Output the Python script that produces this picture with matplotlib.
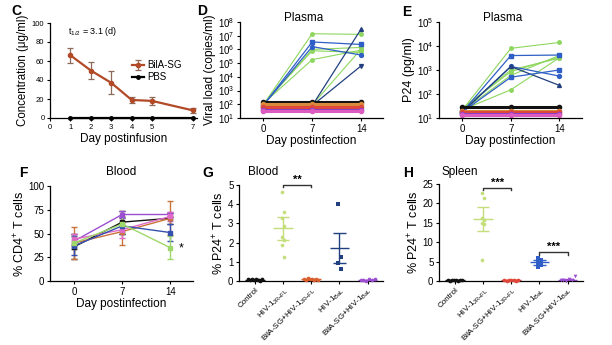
import numpy as np
import matplotlib.pyplot as plt

plt.rcParams['font.family'] = ['Liberation Sans', 'DejaVu Sans']
plt.rcParams['mathtext.fontset'] = 'custom'
plt.rcParams['mathtext.rm'] = 'Liberation Sans'
plt.rcParams['mathtext.it'] = 'Liberation Sans:italic'
plt.rcParams['mathtext.bf'] = 'Liberation Sans:bold'

# ---- data ----
# C: BilA-SG concentration after infusion
days_c = [1, 2, 3, 4, 5, 7]
conc_bila = [66, 50, 37, 19, 18, 8]
conc_err = [8, 9, 12, 3, 4, 3]
conc_pbs = [0, 0, 0, 0, 0, 0]

days = [0, 7, 14]

# D: viral load (copies/ml)
vl_jrfl = [[90, 1.4e7, 1.25e7],
           [100, 1.0e6, 1.4e6],
           [110, 1.8e5, 9e5],
           [100, 8e5, 6e5],
           [100, 90, 1.1e6]]
vl_bal = [[80, 3.5e6, 2.3e6],
          [80, 1.6e6, 3.9e5],
          [80, 80, 3.2e7],
          [80, 80, 6.5e4]]
vl_ctrl = [155, 105, 63, 38, 32]

# E: P24 (pg/ml)
p24_jrfl = [[22, 8000, 14000],
            [25, 850, 3500],
            [25, 1000, 3100],
            [22, 150, 3200],
            [20, 600, 4000]]
p24_bal = [[18, 4000, 4200],
           [18, 1400, 560],
           [18, 1400, 230],
           [18, 500, 1000]]
p24_ctrl = [28, 20, 17, 15, 13]

# F: % CD4+ T cells in blood (mean, error) per group
cd4_mean = {'black': [36, 62, 66], 'orange': [40, 52, 66], 'purple': [42, 70, 70],
            'pink': [44, 54, 68], 'blue': [37, 58, 51], 'green': [40, 60, 35]}
cd4_err = {'black': [13, 12, 6], 'orange': [17, 14, 18], 'purple': [8, 4, 3],
           'pink': [6, 9, 5], 'blue': [10, 9, 9], 'green': [6, 8, 12]}

# G: % P24+ T cells, blood
g_ctrl = [0.08, 0.05, 0.12, 0.03, 0.1, 0.06, 0.02, 0.09]
g_jrfl = [4.62, 3.6, 3.3, 2.85, 2.3, 2.15, 1.86, 1.27]
g_bila_jrfl = [0.1, 0.05, 0.15, 0.08, 0.12, 0.04, 0.1, 0.07]
g_bal = [4.02, 1.23, 0.95, 0.62]
g_bila_bal = [0.03, 0.06, 0.02, 0.08, 0.05, 0.1]
g_mean = [0.07, 2.75, 0.09, 1.72, 0.05]
g_err = [0.02, 0.6, 0.03, 0.8, 0.02]

# H: % P24+ T cells, spleen
h_ctrl = [0.2, 0.1, 0.3, 0.15, 0.25, 0.1, 0.35, 0.2]
h_jrfl = [22.8, 21.3, 16.2, 15.6, 15.0, 14.6, 5.3]
h_bila_jrfl = [0.2, 0.1, 0.25, 0.15, 0.3, 0.1, 0.2]
h_bal = [5.9, 5.5, 5.0, 4.8, 4.5, 4.0, 3.7]
h_bila_bal = [0.2, 0.3, 0.1, 0.4, 0.2, 1.2]
h_mean = [0.2, 15.9, 0.2, 4.8, 0.35]
h_err = [0.05, 3.1, 0.05, 0.6, 0.1]

groups_gh = ['Control', r'HIV-1$_{\mathrm{JR{-}FL}}$', r'BilA-SG+HIV-1$_{\mathrm{JR{-}FL}}$',
             r'HIV-1$_{\mathrm{BaL}}$', r'BilA-SG+HIV-1$_{\mathrm{BaL}}$']

# colours
rust = '#b24a28'
green = '#8ed65e'
lgreen = '#c4de7c'
blue = '#2f5fc6'
dblue = '#22407f'
ctrl_cols = ['#111111', '#d98a3a', '#e0473b', '#8a3fc8', '#dd5cc0']
f_cols = {'black': '#111111', 'orange': '#c8743a', 'purple': '#9b4fd0',
          'pink': '#e06ac8', 'blue': '#3550b0', 'green': '#9fd86a'}

W, H = 612, 345
fig = plt.figure(figsize=(W / 100, H / 100), dpi=100)
YL = 9      # y label size
XL = 8.5    # x label size


def box(l, t, r, b):
    ax = fig.add_axes([l / W, 1 - b / H, (r - l) / W, (b - t) / H])
    for s in ['top', 'right']:
        ax.spines[s].set_visible(False)
    for s in ['left', 'bottom']:
        ax.spines[s].set_linewidth(0.9)
    ax.tick_params(direction='out', length=2.5, width=0.8, pad=1.5, labelsize=7)
    ax.patch.set_alpha(0)
    return ax


def ftext(x, y, s, **kw):
    fig.text(x / W, 1 - y / H, s, **kw)


# ---- C ----
ax = box(50, 23, 197, 118)
h1 = ax.errorbar(days_c, conc_bila, yerr=conc_err, color=rust, ecolor='#8f6a5a', elinewidth=0.9,
                 capsize=2.5, capthick=0.9, marker='o', ms=3, lw=1.6)
h2, = ax.plot(days_c, conc_pbs, color='k', marker='o', ms=2.5, lw=1.6, clip_on=False)
ax.set_xlim(0, 7.2)
ax.set_ylim(0, 100)
ax.set_xticks([0, 1, 2, 3, 4, 5, 7])
ax.set_yticks(range(0, 101, 20))
ax.tick_params(labelsize=5.5)
ax.set_xlabel('Day postinfusion', fontsize=XL, labelpad=2)
ax.set_ylabel('Concentration (\u03bcg/ml)', fontsize=8.3, labelpad=2)
ax.text(0.9, 88, r't$_{1/2}$ = 3.1 (d)', fontsize=6.5)
ax.legend([h1, h2], ['BilA-SG', 'PBS'], loc='upper left', bbox_to_anchor=(0.5, 0.7),
          frameon=False, fontsize=7, handlelength=1.2, handletextpad=0.3, labelspacing=0.2)

# ---- D ----
ax = box(240, 22, 383, 118)
for row in vl_jrfl:
    ax.plot(days, row, color=green, lw=0.8, marker='o', ms=2.5)
for row, m in zip(vl_bal, ['s', 'o', '^', 'v']):
    ax.plot(days, row, color=blue if m in 'so' else dblue, lw=0.9, marker=m, ms=2.8)
for v, c in zip(vl_ctrl, ctrl_cols):
    ax.plot(days, [v, v, v], color=c, lw=2.2, marker='o', ms=3)
ax.set_yscale('log')
ax.set_ylim(10, 1e8)
ax.set_yticks([10 ** k for k in range(1, 9)])
ax.yaxis.set_minor_locator(plt.NullLocator())
ax.set_xlim(-3.3, 17.1)
ax.set_xticks(days)
ax.set_xlabel('Day postinfection', fontsize=XL, labelpad=1)
ax.set_ylabel('Viral load (copies/ml)', fontsize=8.6, labelpad=1)
ftext(304, 18, 'Plasma', fontsize=8.5, ha='center', va='center')

# ---- E ----
ax = box(439, 22, 582, 118)
for row in p24_jrfl:
    ax.plot(days, row, color=green, lw=0.8, marker='o', ms=2.5)
for row, m in zip(p24_bal, ['s', 'o', '^', 's']):
    ax.plot(days, row, color=blue if m != '^' else dblue, lw=0.9, marker=m, ms=2.8)
for v, c in zip(p24_ctrl, ctrl_cols):
    ax.plot(days, [v, v, v], color=c, lw=2.2, marker='o', ms=3)
ax.set_yscale('log')
ax.set_ylim(10, 1e5)
ax.set_yticks([10 ** k for k in range(1, 6)])
ax.yaxis.set_minor_locator(plt.NullLocator())
ax.set_xlim(-3.4, 17.3)
ax.set_xticks(days)
ax.set_xlabel('Day postinfection', fontsize=XL, labelpad=1)
ax.set_ylabel('P24 (pg/ml)', fontsize=YL, labelpad=1)
ftext(503, 18, 'Plasma', fontsize=8.5, ha='center', va='center')

# ---- F ----
ax = box(50, 186, 193, 281)
for k in cd4_mean:
    ax.errorbar(days, cd4_mean[k], yerr=cd4_err[k], color=f_cols[k], lw=1.0, elinewidth=1.0,
                capsize=2.5, capthick=1.0, marker='s', ms=2.5)
ax.set_ylim(0, 100)
ax.set_yticks([0, 25, 50, 75, 100])
ax.set_xlim(-3.5, 17.3)
ax.set_xticks(days)
ax.set_xlabel('Day postinfection', fontsize=XL, labelpad=1)
ax.set_ylabel(r'% CD4$^{+}$ T cells', fontsize=YL, labelpad=1)
ax.text(15.2, 34, '*', fontsize=9, ha='left', va='center')
ftext(121, 172, 'Blood', fontsize=8.5, ha='center', va='center')


# ---- G / H ----
def dotplot(ax, sets, means, errs, cols, markers):
    for i, (vals, c, m) in enumerate(zip(sets, cols, markers)):
        n = len(vals)
        if i in (0, 2, 4):
            off = np.linspace(-0.25, 0.25, n)
        else:
            off = np.tile([-0.04, 0.04], n)[:n]
        ax.scatter(i + off, vals, s=7, color=c, marker=m, zorder=3, clip_on=False, linewidths=0)
        ax.hlines(means[i], i - 0.35, i + 0.35, color=c, lw=1.0, zorder=2)
        ax.vlines(i, means[i] - errs[i], means[i] + errs[i], color=c, lw=1.0, zorder=2)
        ax.hlines([means[i] - errs[i], means[i] + errs[i]], i - 0.22, i + 0.22, color=c, lw=1.0, zorder=2)
    ax.set_xlim(-0.57, 4.55)
    ax.set_xticks(range(5))
    ax.set_xticklabels(groups_gh, rotation=45, ha='right', rotation_mode='anchor', fontsize=5.8)
    ax.tick_params(axis='x', pad=1)
    ax.set_ylabel(r'% P24$^{+}$ T cells', fontsize=YL, labelpad=1)


def sigbar(ax, x0, x1, y, tick, txt):
    ax.plot([x0, x0, x1, x1], [y - tick, y, y, y - tick], color='#333333', lw=1.0, clip_on=False)
    ax.text((x0 + x1) / 2, y, txt, ha='center', va='bottom', fontsize=8, fontweight='bold')


gh_cols = ['#111111', lgreen, '#d9602e', dblue, '#9b4fd0']
ax = box(239, 185, 383, 281)
dotplot(ax, [g_ctrl, g_jrfl, g_bila_jrfl, g_bal, g_bila_bal], g_mean, g_err, gh_cols,
        ['o', 'o', 'o', 's', 'o'])
ax.set_ylim(0, 5)
ax.set_yticks(range(6))
sigbar(ax, 1, 2, 5.0, 0.12, '**')
ftext(263, 172, 'Blood', fontsize=8.5, ha='center', va='center')

gh_cols_h = ['#111111', lgreen, '#e0473b', blue, '#9b4fd0']
ax = box(439, 184, 583, 281)
dotplot(ax, [h_ctrl, h_jrfl, h_bila_jrfl, h_bal, h_bila_bal], h_mean, h_err, gh_cols_h,
        ['o', 'o', 'o', 's', 'v'])
ax.set_ylim(0, 25)
ax.set_yticks(range(0, 26, 5))
sigbar(ax, 1, 2, 24, 0.6, '***')
sigbar(ax, 3, 4, 7.4, 0.6, '***')
ftext(460, 172, 'Spleen', fontsize=8.5, ha='center', va='center')

# panel letters
for x, y, s in [(16, 11, 'C'), (202, 11, 'D'), (407, 12, 'E'),
                (23, 173, 'F'), (208, 173, 'G'), (408, 173, 'H')]:
    ftext(x, y, s, fontsize=10, fontweight='bold', ha='center', va='center')

fig.savefig('out.png', dpi=100)
